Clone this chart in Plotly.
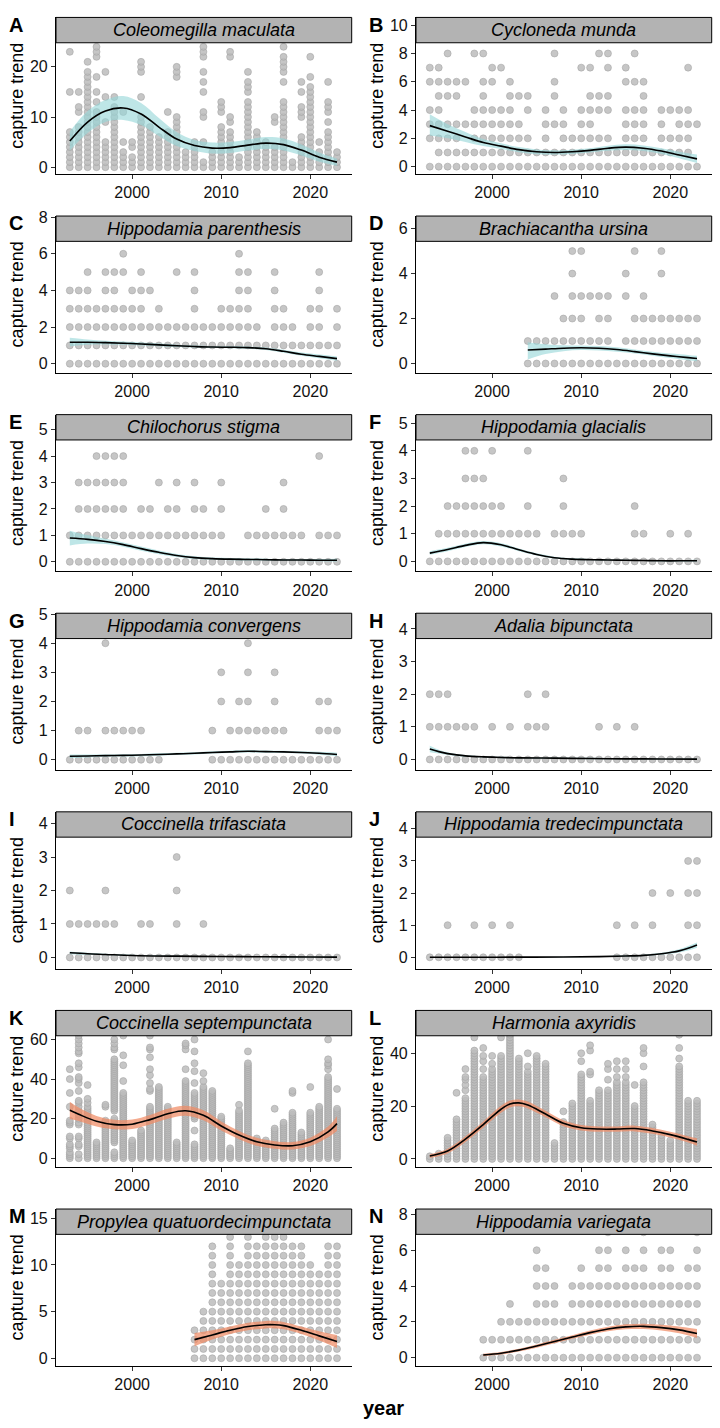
import plotly.graph_objects as go

W, H = 720, 1428
FONT = "Liberation Sans"

YRS = [1993, 1994, 1995, 1996, 1997, 1998, 1999, 2000, 2001, 2002, 2003, 2004, 2005, 2006, 2007,
       2008, 2009, 2010, 2011, 2012, 2013, 2014, 2015, 2016, 2017, 2018, 2019, 2020, 2021, 2022, 2023]
ODD = [1993, 1995, 1997, 1999, 2001, 2003, 2005, 2007, 2009, 2011, 2013, 2015, 2017, 2019, 2021, 2023]

names = ["Coleomegilla maculata", "Cycloneda munda", "Hippodamia parenthesis", "Brachiacantha ursina",
         "Chilochorus stigma", "Hippodamia glacialis", "Hippodamia convergens", "Adalia bipunctata",
         "Coccinella trifasciata", "Hippodamia tredecimpunctata", "Coccinella septempunctata",
         "Harmonia axyridis", "Propylea quatuordecimpunctata", "Hippodamia variegata"]
letters = ["A", "B", "C", "D", "E", "F", "G", "H", "I", "J", "K", "L", "M", "N"]

# ---- observed points: per year, values ("a-b" = every integer count from a to b observed) ----
A_years = YRS
A_vals = ["0-7,15,23", "0-8,11,12,15", "0-19,21", "0-11,13,15,18,22,23,24", "0-5,9,14,19", "0-12,14",
          "0-3,5,11", "0-2,4,5", "0-10,14,19,20,21", "0-8", "0-6", "0-7,11", "0-10,18,19,20", "0-3", "0-5",
          "0,1,5,10,11,15,17,19,22,23,24", "0-3", "0-8,11,12,13", "0-7,9,10,22,23", "0-2",
          "0-13,15,16,17,19", "0-7", "0-5", "0-4,9,10", "0-13,17,19,20,21,22,24", "0-1",
          "0-6,10,11,12,15,17", "0-16,18,22", "0-3,5", "0-7,9,11,12,13,17", "0-3"]
B_years = YRS
B_vals = ["0,2,3,4,6,7", "0-7", "0-3,5,6,8", "0-3,5,6", "0,1,3,6", "0-4,8", "0-6,8", "0-4,6,7", "0-4,7",
          "0-6", "0-3,5", "0,1,2,4,5", "0,1", "0-4", "0,1,3,5,6,8", "0-4", "0-2", "0-4,7", "0-5,7",
          "0,1,2,4,5,8", "0,1,2,4,5,7,8", "0,1", "0-4,6,7", "0-4,6,8", "0-6", "0,1", "0-4", "0,1,2,4",
          "0-4", "0-4,7", "0,3"]
C_years = YRS
C_vals = ["0-4", "0-4", "0-5", "0-3", "0-5", "0-5", "0-3,5,6", "0-4", "0-5", "0,1,2,4", "0-3", "0-2",
          "0,1,2,5", "0-2", "0-5", "0-2", "0-2", "0-3", "0-3", "0-6", "0-5", "0-2", "0,1", "0-5", "0-3",
          "0-2", "0,1", "0-3", "0-5", "0,1", "0-3"]
D_years = [2004, 2005, 2006, 2007, 2008, 2009, 2010, 2011, 2012, 2013, 2014, 2015, 2016, 2017, 2018,
           2019, 2020, 2021, 2022, 2023]
D_vals = ["0,1", "0,1", "0,1", "0,1,3", "0-2", "0-5", "0-3,5", "0,1,3", "0-3", "0-3", "0", "0,1,3,4",
          "0,1,2,5", "0-3", "0-2", "0,1,2,4,5", "0-2", "0-2", "0-2", "0-2"]
E_years = YRS
E_vals = ["0,1", "0-3", "0-3", "0-4", "0-4", "0-4", "0-4", "0,1", "0-2", "0-2", "0,1,3", "0-2", "0-3",
          "0,1", "0-3", "0-2", "0,1", "0-3", "0", "0", "0,1", "0,1", "0-2", "0,1", "0-3", "0,1", "0,1",
          "0", "0,1,4", "0,1", "0,1"]
F_years = YRS
F_vals = ["0", "0,1", "0-2", "0-2", "0-4", "0-4", "0-3", "0,1,2,4", "0-2", "0,1", "0,1", "0,1,2,4",
          "0,1", "0", "0,1", "0-3", "0,1", "0,1", "0", "0", "0", "0", "0", "0-2", "0,1", "0", "0",
          "0,1", "0", "0,1", "0"]
G_years = [1993, 1994, 1995, 1996, 1997, 1998, 1999, 2000, 2001, 2002, 2003, 2009, 2010, 2011, 2012,
           2013, 2014, 2015, 2016, 2017, 2018, 2019, 2020, 2021, 2022, 2023]
G_vals = ["0", "0,1", "0,1", "0", "0,1,4", "0,1", "0,1", "0,1", "0,1", "0", "0", "0,1", "0,2,3", "0,1",
          "0-2", "0-4", "0,1", "0,1", "0-3", "0,1", "0", "0", "0", "0-2", "0-2", "0,1"]
H_years = YRS
H_vals = ["0-2", "0-2", "0-2", "0,1", "0,1", "0,1", "0", "0,1", "0", "0,1", "0", "0-2", "0,1", "0-2",
          "0", "0", "0", "0", "0", "0,1", "0", "0,1", "0", "0,1", "0", "0", "0", "0", "0", "0", "0"]
I_years = YRS
I_vals = ["0-2", "0,1", "0,1", "0,1", "0-2", "0,1", "0", "0", "0,1", "0,1", "0", "0", "0-3", "0", "0",
          "0,1", "0", "0", "0", "0", "0", "0", "0", "0", "0", "0", "0", "0", "0", "0", "0"]
J_years = [1993, 1994, 1995, 1996, 1997, 1998, 1999, 2000, 2001, 2002, 2003, 2014, 2015, 2016, 2017,
           2018, 2019, 2020, 2021, 2022, 2023]
J_vals = ["0", "0", "0,1", "0", "0", "0,1", "0", "0,1", "0", "0,1", "0", "0,1", "0", "0,1", "0",
          "0-2", "0", "0,2", "0", "0-3", "0-3"]
K_years = YRS
K_vals = ["0-3,5,6,7,10,11,17,18,19,26,33,40,45",
          "0,2,6,7,10,11,17,18,20,22,24,26,28,29,34,38,40,41,46,48,53,54,56,58,60,62",
          "0-26,28,30,37", "0-8", "0-19,26,27", "0-3,8-20,24-50,55,56,58,60", "0-33,39,47,52,62", "0-9",
          "0-14", "0-26,34,35,38,42,45,51,55,56,62", "0-36", "0-26", "0-8", "0-39,45,55,57,58",
          "0-7,14,20-33,38,44,48,54,60", "0-36,39,43", "0-34", "0-21", "0-5", "0-24,27", "0-48,54",
          "0-10", "0-9", "0-15,25", "0-18", "0-23,33,34", "0-13", "0-23,36", "0-26",
          "0-41,45,47,48,50,60", "0-25,35"]
L_years = YRS
L_vals = ["0,1", "0-2", "0-8", "0-15,25", "0-23,26,28,30,31,34", "0-41,46", "0-31,34,37,39,42",
          "0-34,36,39", "0-39,46", "0-48", "0-38", "0-33,35,40", "0-39", "0-36", "0-6", "0-14,18",
          "0-21", "0-32,37,40", "0-22,32,33,41,43", "0-26", "0-26,30,34,36", "0-29,31,34,37",
          "0-29,31,34,37", "0-20,28", "0-29,35,40,42", "0-13", "0-9", "0-7", "0-35,38,42,47", "0-22",
          "0-22"]
M_years = [2007, 2008, 2009, 2010, 2011, 2012, 2013, 2014, 2015, 2016, 2017, 2018, 2019, 2020, 2021,
           2022, 2023]
M_vals = ["0-3", "0-5", "0-12,14", "0-8", "0-13", "0-10", "0-14", "0-12", "0-14", "0-13", "0-14",
          "0-12", "0-12", "0-10", "0-9", "0-12", "0-12"]
N_years = [1999, 2000, 2001, 2002, 2003, 2004, 2005, 2006, 2007, 2008, 2009, 2010, 2011, 2012, 2013,
           2014, 2015, 2016, 2017, 2018, 2019, 2020, 2021, 2022, 2023]
N_vals = ["0,1", "0,1", "0-2", "0-3", "0-2", "0-2", "0-6", "0-5", "0-4", "0-2", "0-4", "0-5", "0-4",
          "0-6", "0-7", "0-4", "0-6", "0-5", "0-8", "0-4", "0-6", "0-6", "0-4", "0-5", "0-7"]

# ---- fitted trend (mean, lower, upper) ----
A_tx = ODD
A_ty = [5.2, 9.0, 11.2, 11.8, 10.6, 8.0, 5.6, 4.3, 3.8, 3.9, 4.4, 4.8, 4.5, 3.4, 2.0, 1.0]
A_lo = [3.3, 6.8, 9.0, 9.4, 8.4, 6.2, 4.2, 3.2, 2.7, 2.8, 3.3, 3.6, 3.3, 2.3, 1.1, 0.3]
A_hi = [7.1, 11.2, 13.4, 14.2, 12.8, 9.8, 7.0, 5.4, 4.9, 5.0, 5.5, 6.0, 5.7, 4.5, 2.9, 1.7]
B_tx = ODD
B_ty = [2.9, 2.5, 2.1, 1.7, 1.45, 1.2, 1.05, 1.0, 1.05, 1.15, 1.3, 1.38, 1.3, 1.1, 0.82, 0.55]
B_lo = [2.2, 2.0, 1.75, 1.45, 1.25, 1.02, 0.88, 0.85, 0.9, 1.0, 1.12, 1.18, 1.1, 0.9, 0.6, 0.25]
B_hi = [3.7, 3.0, 2.45, 1.95, 1.65, 1.38, 1.22, 1.15, 1.2, 1.3, 1.48, 1.58, 1.5, 1.3, 1.05, 0.85]
C_tx = ODD
C_ty = [1.17, 1.17, 1.15, 1.12, 1.08, 1.03, 0.98, 0.94, 0.91, 0.9, 0.88, 0.82, 0.68, 0.52, 0.4, 0.28]
C_lo = [0.95, 1.03, 1.05, 1.03, 1.0, 0.96, 0.92, 0.89, 0.86, 0.85, 0.82, 0.75, 0.6, 0.43, 0.3, 0.17]
C_hi = [1.42, 1.32, 1.25, 1.21, 1.16, 1.1, 1.04, 0.99, 0.96, 0.95, 0.94, 0.89, 0.76, 0.61, 0.5, 0.4]
D_tx = [2004, 2006, 2008, 2010, 2012, 2014, 2016, 2018, 2020, 2022, 2023]
D_ty = [0.6, 0.64, 0.68, 0.7, 0.68, 0.62, 0.53, 0.43, 0.34, 0.26, 0.22]
D_lo = [0.18, 0.42, 0.55, 0.6, 0.58, 0.52, 0.44, 0.34, 0.24, 0.14, 0.1]
D_hi = [0.95, 0.86, 0.81, 0.8, 0.78, 0.72, 0.62, 0.52, 0.44, 0.38, 0.34]
E_tx = ODD
E_ty = [0.9, 0.85, 0.77, 0.65, 0.5, 0.36, 0.24, 0.16, 0.12, 0.1, 0.09, 0.08, 0.07, 0.07, 0.06, 0.06]
E_lo = [0.62, 0.69, 0.67, 0.57, 0.42, 0.29, 0.18, 0.11, 0.08, 0.06, 0.05, 0.04, 0.04, 0.03, 0.02, 0.01]
E_hi = [1.18, 1.01, 0.87, 0.73, 0.58, 0.43, 0.3, 0.21, 0.16, 0.14, 0.13, 0.12, 0.11, 0.11, 0.11, 0.12]
F_tx = ODD
F_ty = [0.3, 0.43, 0.58, 0.68, 0.6, 0.42, 0.25, 0.13, 0.08, 0.06, 0.05, 0.04, 0.03, 0.02, 0.02, 0.02]
F_lo = [0.24, 0.37, 0.52, 0.62, 0.54, 0.37, 0.21, 0.1, 0.05, 0.04, 0.03, 0.02, 0.01, 0.0, 0.0, 0.0]
F_hi = [0.37, 0.49, 0.64, 0.74, 0.66, 0.47, 0.29, 0.17, 0.11, 0.09, 0.07, 0.06, 0.05, 0.05, 0.05, 0.06]
G_tx = ODD
G_ty = [0.12, 0.13, 0.14, 0.15, 0.16, 0.18, 0.2, 0.22, 0.25, 0.27, 0.29, 0.28, 0.27, 0.25, 0.22, 0.18]
G_lo = [0.06, 0.08, 0.1, 0.11, 0.12, 0.14, 0.16, 0.18, 0.21, 0.23, 0.25, 0.24, 0.23, 0.21, 0.17, 0.12]
G_hi = [0.18, 0.18, 0.18, 0.19, 0.2, 0.22, 0.24, 0.26, 0.29, 0.31, 0.33, 0.32, 0.31, 0.29, 0.27, 0.24]
H_tx = [1993, 1994, 1995, 1996, 1997, 1999, 2001, 2003, 2007, 2011, 2015, 2019, 2023]
H_ty = [0.32, 0.24, 0.18, 0.14, 0.11, 0.08, 0.06, 0.05, 0.04, 0.03, 0.02, 0.015, 0.01]
H_lo = [0.22, 0.18, 0.14, 0.11, 0.08, 0.06, 0.04, 0.03, 0.02, 0.01, 0.01, 0.0, 0.0]
H_hi = [0.42, 0.3, 0.22, 0.17, 0.14, 0.1, 0.08, 0.07, 0.06, 0.05, 0.04, 0.03, 0.03]
I_tx = [1993, 1995, 1997, 2000, 2005, 2010, 2015, 2020, 2023]
I_ty = [0.14, 0.11, 0.09, 0.06, 0.04, 0.03, 0.02, 0.015, 0.01]
I_lo = [0.1, 0.08, 0.07, 0.05, 0.03, 0.02, 0.01, 0.0, 0.0]
I_hi = [0.18, 0.14, 0.11, 0.08, 0.05, 0.04, 0.03, 0.03, 0.03]
J_tx = [1993, 1998, 2003, 2008, 2012, 2015, 2017, 2019, 2020, 2021, 2022, 2023]
J_ty = [0.0, 0.0, 0.005, 0.01, 0.02, 0.04, 0.06, 0.11, 0.15, 0.2, 0.28, 0.38]
J_lo = [0.0, 0.0, 0.0, 0.0, 0.01, 0.02, 0.04, 0.08, 0.11, 0.15, 0.21, 0.3]
J_hi = [0.01, 0.01, 0.01, 0.02, 0.03, 0.06, 0.08, 0.14, 0.19, 0.25, 0.35, 0.46]
K_tx = [1993, 1994, 1996, 1998, 2000, 2002, 2004, 2006, 2008, 2010, 2012, 2014, 2016, 2018, 2020, 2022, 2023]
K_ty = [24.2, 22.2, 18.7, 17.0, 17.2, 19.5, 22.5, 24.0, 21.7, 16.3, 11.7, 8.3, 6.7, 6.3, 8.3, 13.3, 17.5]
K_lo = [19.8, 18.8, 16.0, 14.6, 14.8, 17.1, 20.0, 21.5, 19.2, 14.0, 9.6, 6.3, 4.8, 4.4, 6.2, 10.6, 13.8]
K_hi = [28.6, 25.6, 21.4, 19.4, 19.6, 21.9, 25.0, 26.5, 24.2, 18.6, 13.8, 10.3, 8.6, 8.2, 10.4, 16.0, 21.2]
L_tx = [1993, 1995, 1997, 1999, 2000, 2001, 2002, 2003, 2004, 2006, 2008, 2010, 2012, 2014, 2016, 2018, 2020, 2022, 2023]
L_ty = [1.1, 3.0, 7.5, 13.0, 16.0, 18.8, 20.8, 21.2, 20.4, 17.0, 13.5, 11.8, 11.3, 11.3, 11.5, 10.6, 9.2, 7.4, 6.4]
L_lo = [0.4, 2.1, 6.4, 11.8, 14.7, 17.5, 19.5, 19.9, 19.1, 15.8, 12.4, 10.8, 10.3, 10.3, 10.4, 9.5, 8.1, 6.2, 5.0]
L_hi = [1.8, 3.9, 8.6, 14.2, 17.3, 20.1, 22.1, 22.5, 21.7, 18.2, 14.6, 12.8, 12.3, 12.3, 12.6, 11.7, 10.3, 8.6, 7.8]
M_tx = [2007, 2009, 2011, 2013, 2015, 2016, 2017, 2019, 2021, 2023]
M_ty = [2.0, 2.5, 3.0, 3.4, 3.6, 3.6, 3.5, 3.0, 2.4, 1.8]
M_lo = [1.3, 2.0, 2.6, 3.0, 3.2, 3.2, 3.1, 2.6, 1.9, 1.1]
M_hi = [2.7, 3.0, 3.4, 3.8, 4.0, 4.0, 3.9, 3.4, 2.9, 2.5]
N_tx = [1999, 2001, 2003, 2005, 2007, 2009, 2011, 2013, 2015, 2017, 2019, 2021, 2023]
N_ty = [0.15, 0.25, 0.42, 0.65, 0.9, 1.15, 1.4, 1.6, 1.72, 1.75, 1.68, 1.55, 1.35]
N_lo = [0.08, 0.18, 0.34, 0.56, 0.8, 1.05, 1.28, 1.47, 1.58, 1.6, 1.52, 1.36, 1.1]
N_hi = [0.22, 0.32, 0.5, 0.74, 1.0, 1.25, 1.52, 1.73, 1.86, 1.9, 1.84, 1.74, 1.6]

# ---- axis ranges / ticks per panel ----
y_ranges = [[-1.39, 29.86], [-0.53, 10.55], [-0.49, 8.06], [-0.41, 6.56], [-0.36, 5.57], [-0.36, 5.31],
            [-0.35, 5.03], [-0.32, 4.48], [-0.33, 4.35], [-0.35, 4.53], [-4.5, 74.7], [-3.1, 56.2],
            [-0.8, 16.0], [-0.45, 8.3]]
y_ticks = [[0, 10, 20], [0, 2, 4, 6, 8, 10], [0, 2, 4, 6, 8], [0, 2, 4, 6], [0, 1, 2, 3, 4, 5],
           [0, 1, 2, 3, 4, 5], [0, 1, 2, 3, 4, 5], [0, 1, 2, 3, 4], [0, 1, 2, 3, 4], [0, 1, 2, 3, 4],
           [0, 20, 40, 60], [0, 20, 40], [0, 5, 10, 15], [0, 2, 4, 6, 8]]
x_ticks = [2000, 2010, 2020]
x_range = [1991.45, 2024.65]

pts = [(A_years, A_vals), (B_years, B_vals), (C_years, C_vals), (D_years, D_vals), (E_years, E_vals),
       (F_years, F_vals), (G_years, G_vals), (H_years, H_vals), (I_years, I_vals), (J_years, J_vals),
       (K_years, K_vals), (L_years, L_vals), (M_years, M_vals), (N_years, N_vals)]
trends = [(A_tx, A_ty, A_lo, A_hi), (B_tx, B_ty, B_lo, B_hi), (C_tx, C_ty, C_lo, C_hi),
          (D_tx, D_ty, D_lo, D_hi), (E_tx, E_ty, E_lo, E_hi), (F_tx, F_ty, F_lo, F_hi),
          (G_tx, G_ty, G_lo, G_hi), (H_tx, H_ty, H_lo, H_hi), (I_tx, I_ty, I_lo, I_hi),
          (J_tx, J_ty, J_lo, J_hi), (K_tx, K_ty, K_lo, K_hi), (L_tx, L_ty, L_lo, L_hi),
          (M_tx, M_ty, M_lo, M_hi), (N_tx, N_ty, N_lo, N_hi)]


def parse(s):
    out = []
    for part in s.split(","):
        if "-" in part:
            a, b = part.split("-")
            out.extend(range(int(a), int(b) + 1))
        else:
            out.append(int(part))
    return out


def fx(px):
    return px / W


def fy(py):
    return 1 - py / H


COLS = [(56, 351.7), (416, 711.7)]
TOP0, STRIP0, BOT0, PITCH = 9.5, 35.0, 167.3, 200.0
CYAN = "rgba(150,214,216,0.62)"
SALMON = "rgba(240,138,100,0.72)"

fig = go.Figure()
layout = {}
shapes = []
annotations = []

for i in range(14):
    r, c = divmod(i, 2)
    sfx = "" if i == 0 else str(i + 1)
    x0, x1 = COLS[c]
    top = TOP0 + PITCH * r
    sbot = STRIP0 + PITCH * r
    bot = BOT0 + PITCH * r

    years, vals = pts[i]
    xs, ys = [], []
    for yr, s in zip(years, vals):
        for v in parse(s):
            xs.append(yr)
            ys.append(v)
    fig.add_trace(go.Scatter(
        x=xs, y=ys, mode="markers", xaxis="x" + sfx, yaxis="y" + sfx, hoverinfo="skip",
        showlegend=False,
        marker=dict(size=7, color="rgba(188,188,188,0.85)",
                    line=dict(width=0.6, color="rgba(160,160,160,0.9)"))))

    tx, ty, lo, hi = trends[i]
    band = SALMON if i >= 10 else CYAN
    fig.add_trace(go.Scatter(x=tx, y=lo, mode="lines", xaxis="x" + sfx, yaxis="y" + sfx,
                             line=dict(width=0, shape="spline"), hoverinfo="skip", showlegend=False))
    fig.add_trace(go.Scatter(x=tx, y=hi, mode="lines", xaxis="x" + sfx, yaxis="y" + sfx,
                             fill="tonexty", fillcolor=band,
                             line=dict(width=0, shape="spline"), hoverinfo="skip", showlegend=False))
    fig.add_trace(go.Scatter(x=tx, y=ty, mode="lines", xaxis="x" + sfx, yaxis="y" + sfx,
                             line=dict(color="black", width=1.6, shape="spline"),
                             hoverinfo="skip", showlegend=False))

    common = dict(showgrid=False, zeroline=False, showline=True, linecolor="black", linewidth=1.2,
                  ticks="outside", ticklen=4, tickwidth=1.1, tickcolor="#333",
                  tickfont=dict(family=FONT, size=16, color="#111"))
    layout["xaxis" + sfx] = dict(domain=[fx(x0), fx(x1)], range=x_range, tickvals=x_ticks,
                                 anchor="y" + sfx, **common)
    layout["yaxis" + sfx] = dict(domain=[fy(bot), fy(top)], range=y_ranges[i], tickvals=y_ticks[i],
                                 anchor="x" + sfx, **common)

    # strip
    shapes.append(dict(type="rect", xref="paper", yref="paper", x0=fx(x0), x1=fx(x1),
                       y0=fy(sbot), y1=fy(top), fillcolor="#B3B3B3",
                       line=dict(color="black", width=1), layer="above"))
    annotations.append(dict(text="<i>" + names[i] + "</i>", xref="paper", yref="paper",
                            x=fx((x0 + x1) / 2), y=fy((top + sbot) / 2), showarrow=False,
                            xanchor="center", yanchor="middle",
                            font=dict(family=FONT, size=18, color="black")))
    # panel letter
    annotations.append(dict(text="<b>" + letters[i] + "</b>", xref="paper", yref="paper",
                            x=fx(7 + 360 * c), y=fy(17 + PITCH * r), showarrow=False,
                            xanchor="left", yanchor="middle",
                            font=dict(family=FONT, size=20, color="black")))
    # y title
    annotations.append(dict(text="capture trend", xref="paper", yref="paper",
                            x=fx(17 + 360 * c), y=fy((top + bot) / 2), showarrow=False,
                            textangle=-90, xanchor="center", yanchor="middle",
                            font=dict(family=FONT, size=18, color="black")))

annotations.append(dict(text="<b>year</b>", xref="paper", yref="paper", x=fx(383), y=fy(1410),
                        showarrow=False, xanchor="center", yanchor="middle",
                        font=dict(family=FONT, size=20, color="black")))

fig.update_layout(width=W, height=H, margin=dict(l=0, r=0, t=0, b=0),
                  paper_bgcolor="white", plot_bgcolor="white", shapes=shapes,
                  annotations=annotations, showlegend=False, **layout)

fig.write_html("out.html")
